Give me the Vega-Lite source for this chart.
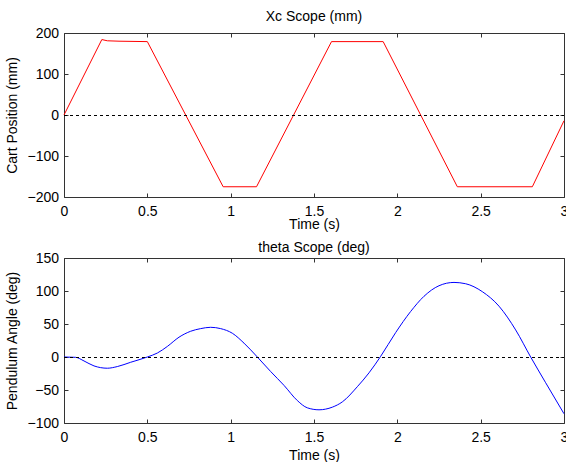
{
  "$schema": "https://vega.github.io/schema/vega-lite/v6.json",
  "background": "white",
  "padding": {"left": 5, "top": 10, "right": 0, "bottom": 0},
  "datasets": {
    "xc": [
      {"t": 0, "x": 0},
      {"t": 0.227, "x": 184},
      {"t": 0.26, "x": 181},
      {"t": 0.33, "x": 180},
      {"t": 0.5, "x": 179},
      {"t": 0.955, "x": -175},
      {"t": 1.155, "x": -175},
      {"t": 1.605, "x": 179},
      {"t": 1.915, "x": 179},
      {"t": 2.36, "x": -175},
      {"t": 2.81, "x": -175},
      {"t": 3.0, "x": -14}
    ],
    "theta": [
      {"t": 0, "a": 0},
      {"t": 0.07, "a": -0.5},
      {"t": 0.12, "a": -6},
      {"t": 0.18, "a": -13.5},
      {"t": 0.26, "a": -17},
      {"t": 0.32, "a": -14.5},
      {"t": 0.4, "a": -8},
      {"t": 0.5, "a": 0},
      {"t": 0.56, "a": 6},
      {"t": 0.62, "a": 16},
      {"t": 0.69, "a": 30},
      {"t": 0.76, "a": 39},
      {"t": 0.82, "a": 43},
      {"t": 0.88, "a": 45},
      {"t": 0.94, "a": 43},
      {"t": 1.01, "a": 36},
      {"t": 1.08, "a": 21},
      {"t": 1.16, "a": 0},
      {"t": 1.24, "a": -22},
      {"t": 1.32, "a": -43},
      {"t": 1.4, "a": -66},
      {"t": 1.46, "a": -77},
      {"t": 1.53, "a": -80},
      {"t": 1.61, "a": -76},
      {"t": 1.67, "a": -68},
      {"t": 1.76, "a": -45},
      {"t": 1.83, "a": -24},
      {"t": 1.9, "a": 1},
      {"t": 1.99, "a": 37},
      {"t": 2.08, "a": 69},
      {"t": 2.16, "a": 92},
      {"t": 2.25, "a": 108},
      {"t": 2.34, "a": 113},
      {"t": 2.41, "a": 111},
      {"t": 2.51, "a": 99},
      {"t": 2.61, "a": 77},
      {"t": 2.71, "a": 41},
      {"t": 2.8, "a": 0},
      {"t": 2.89, "a": -39},
      {"t": 3.0, "a": -86}
    ]
  },
  "config": {
    "font": "Liberation Sans",
    "view": {"stroke": null},
    "axis": {
      "grid": false,
      "domainColor": "#333333",
      "tickColor": "#333333",
      "labelColor": "#000000",
      "titleColor": "#000000",
      "labelFontSize": 14,
      "titleFontSize": 14,
      "titleFontWeight": "normal",
      "labelFont": "Liberation Sans",
      "titleFont": "Liberation Sans",
      "tickSize": -4,
      "labelFlush": false,
      "labelOverlap": false,
      "domainWidth": 1,
      "tickWidth": 1
    },
    "title": {"fontSize": 14, "fontWeight": "normal", "font": "Liberation Sans", "color": "#000000", "baseline": "alphabetic"}
  },
  "bounds": "flush",
  "spacing": 61,
  "vconcat": [
    {
      "width": 500,
      "height": 164,
      "title": {"text": "Xc Scope (mm)", "offset": 2},
      "data": {"name": "xc"},
      "layer": [
        {
          "mark": {"type": "line", "color": "#ff0000", "strokeWidth": 1},
          "encoding": {
            "x": {"field": "t", "type": "quantitative", "scale": {"domain": [0, 3], "nice": false},
              "axis": {"orient": "bottom", "values": [0, 0.5, 1, 1.5, 2, 2.5, 3], "format": "~g", "title": "Time (s)", "labelPadding": 11, "titlePadding": -0.5}},
            "y": {"field": "x", "type": "quantitative", "scale": {"domain": [-200, 200], "nice": false},
              "axis": {"orient": "left", "values": [-200, -100, 0, 100, 200], "title": "Cart Position (mm)", "labelPadding": 9.5, "titlePadding": 7}}
          }
        },
        {
          "mark": {"type": "rule", "color": "#000000", "strokeDash": [3, 3], "strokeWidth": 1, "yOffset": 0.5},
          "encoding": {
            "x": {"datum": 0, "type": "quantitative", "axis": {"orient": "top", "values": [0, 0.5, 1, 1.5, 2, 2.5, 3], "labels": false, "title": null}},
            "x2": {"datum": 3},
            "y": {"datum": 0, "type": "quantitative", "axis": {"orient": "right", "values": [-200, -100, 0, 100, 200], "labels": false, "title": null}}
          }
        }
      ],
      "resolve": {"axis": {"x": "independent", "y": "independent"}}
    },
    {
      "width": 500,
      "height": 165,
      "title": {"text": "theta Scope (deg)", "offset": -4},
      "data": {"name": "theta"},
      "layer": [
        {
          "mark": {"type": "line", "color": "#0000ff", "strokeWidth": 1, "interpolate": "monotone"},
          "encoding": {
            "x": {"field": "t", "type": "quantitative", "scale": {"domain": [0, 3], "nice": false},
              "axis": {"orient": "bottom", "values": [0, 0.5, 1, 1.5, 2, 2.5, 3], "format": "~g", "title": "Time (s)", "labelPadding": 11, "titlePadding": 4}},
            "y": {"field": "a", "type": "quantitative", "scale": {"domain": [-100, 150], "nice": false},
              "axis": {"orient": "left", "values": [-100, -50, 0, 50, 100, 150], "title": "Pendulum Angle (deg)", "labelPadding": 9.5, "titlePadding": 7}}
          }
        },
        {
          "mark": {"type": "rule", "color": "#000000", "strokeDash": [3, 3], "strokeWidth": 1, "yOffset": 0.5},
          "encoding": {
            "x": {"datum": 0, "type": "quantitative", "axis": {"orient": "top", "values": [0, 0.5, 1, 1.5, 2, 2.5, 3], "labels": false, "title": null}},
            "x2": {"datum": 3},
            "y": {"datum": 0, "type": "quantitative", "axis": {"orient": "right", "values": [-100, -50, 0, 50, 100, 150], "labels": false, "title": null}}
          }
        }
      ],
      "resolve": {"axis": {"x": "independent", "y": "independent"}}
    }
  ]
}
